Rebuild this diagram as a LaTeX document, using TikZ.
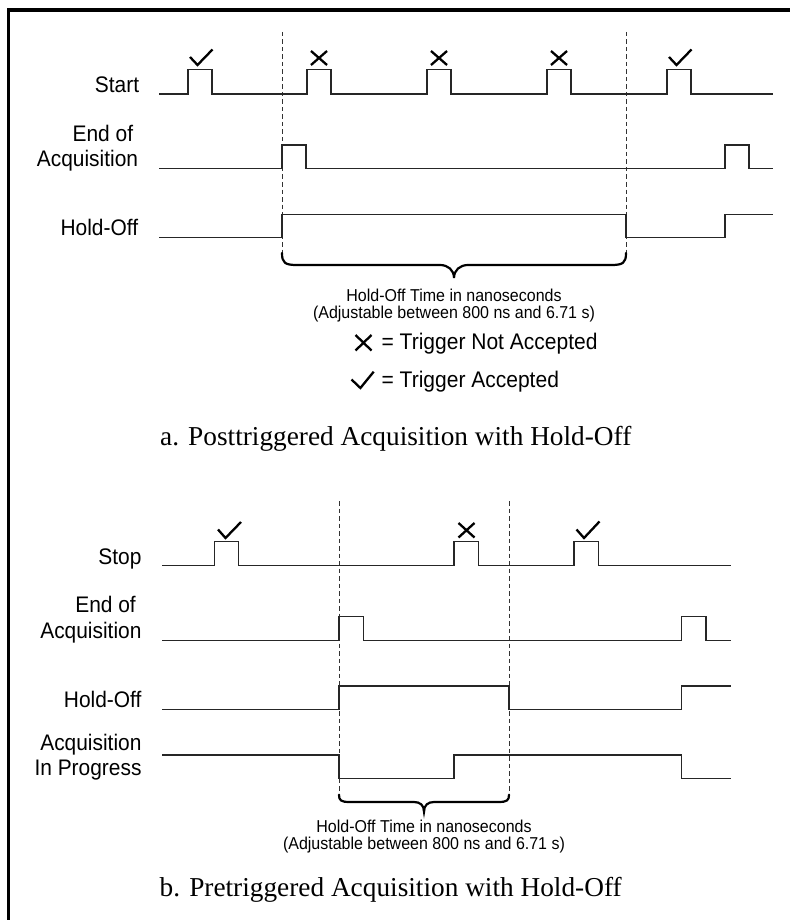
\documentclass[tikz,border=0pt]{standalone}
\usepackage{fontspec}
\setmainfont{Liberation Serif}
\newfontfamily\lsans[FakeStretch=0.93]{Liberation Sans}
\begin{document}
\begin{tikzpicture}[x=1pt,y=-1pt,
  sig/.style={line width=1.2pt, draw=black!85, line join=miter},
  guide/.style={line width=1pt, draw=black!80, dash pattern=on 4.5pt off 3pt},
  bracepath/.style={line width=2.2pt, draw=black, line cap=round},
  marksym/.style={line width=2.3pt, draw=black},
  lbl/.style={anchor=base east, inner sep=0pt, font=\lsans\fontsize{22.5}{26}\selectfont},
  legtxt/.style={anchor=base west, inner sep=0pt, font=\lsans\fontsize{22.6}{26}\selectfont},
  note/.style={anchor=base, inner sep=0pt, font=\lsans\fontsize{17.2}{20}\selectfont},
  capt/.style={anchor=base west, inner sep=0pt, font=\fontsize{27.3}{31}\selectfont}]
\useasboundingbox (0,0) rectangle (789,920);
% frame
\draw[line width=3.5pt, line join=miter] (8.7,930) -- (8.7,10) -- (800,10);

% ===== panel a =====
\draw[guide] (282,32) -- (282,253);
\draw[guide] (626,32) -- (626,253);
% Start
\draw[sig] (159.3,94) -- (188,94) -- (188,69.5) -- (212,69.5) -- (212,94)
  -- (307,94) -- (307,69.5) -- (331,69.5) -- (331,94)
  -- (427,94) -- (427,69.5) -- (451,69.5) -- (451,94)
  -- (547,94) -- (547,69.5) -- (571,69.5) -- (571,94)
  -- (667,94) -- (667,69.5) -- (691,69.5) -- (691,94) -- (773.3,94);
% End of Acquisition
\draw[sig] (159.3,168.3) -- (282,168.3) -- (282,145) -- (306,145) -- (306,168.3)
  -- (725,168.3) -- (725,145) -- (749,145) -- (749,168.3) -- (773.3,168.3);
% Hold-Off
\draw[sig] (159.3,237.7) -- (282,237.7) -- (282,214.3) -- (626,214.3) -- (626,237.7)
  -- (725,237.7) -- (725,214.3) -- (773.3,214.3);
% marks a
\draw[marksym] (190,57) -- (197.5,65) -- (212.5,49.5);
\draw[marksym] (311,51) -- (327,65) (327,51) -- (311,65);
\draw[marksym] (431,51) -- (447,65) (447,51) -- (431,65);
\draw[marksym] (551,51) -- (567,65) (567,51) -- (551,65);
\draw[marksym] (669,57) -- (676.5,65) -- (691.5,49.5);
% labels a
\node[lbl] (la1) at (139.3,92.3) {Start};
\node[lbl] (la2) at (133.3,141.7) {End of};
\node[lbl] (la3) at (138.3,166.7) {Acquisition};
\node[lbl] (la4) at (138.3,235) {Hold-Off};
% brace a
\draw[bracepath] (282,253) .. controls (282,263) and (285,265) .. (297,265)
  -- (440,265) .. controls (448,265) and (454,270) .. (454,278)
  .. controls (454,270) and (460,265) .. (468,265)
  -- (611,265) .. controls (623,265) and (626,263) .. (626,253);
\node[note] (na1) at (454,301.5) {Hold-Off Time in nanoseconds};
\node[note] (na2) at (454,318.8) {(Adjustable between 800 ns and 6.71 s)};
% legend
\draw[marksym] (355.5,335) -- (371.5,350.5) (371.5,335) -- (355.5,350.5);
\node[legtxt] (lg1) at (381.4,349) {= Trigger Not Accepted};
\draw[marksym] (351.5,379.5) -- (360.4,388) -- (373.7,371.7);
\node[legtxt] (lg2) at (381.4,387.7) {= Trigger Accepted};
\node[capt] (capa) at (160,445) {a. Posttriggered Acquisition with Hold-Off};

% ===== panel b =====
\draw[guide] (339,501) -- (339,794.7);
\draw[guide] (509,501) -- (509,794.7);
% Stop
\draw[sig] (162.3,565.7) -- (214.3,565.7) -- (214.3,541.7) -- (238.5,541.7) -- (238.5,565.7)
  -- (454,565.7) -- (454,541.7) -- (478.3,541.7) -- (478.3,565.7)
  -- (574,565.7) -- (574,541.7) -- (598.3,541.7) -- (598.3,565.7) -- (730.7,565.7);
% End of Acquisition
\draw[sig] (162.3,640.7) -- (339,640.7) -- (339,616.7) -- (363.5,616.7) -- (363.5,640.7)
  -- (681.7,640.7) -- (681.7,616.7) -- (706,616.7) -- (706,640.7) -- (730.7,640.7);
% Hold-Off
\draw[sig] (162.3,709.3) -- (339,709.3) -- (339,686) -- (509,686) -- (509,709.3)
  -- (681.7,709.3) -- (681.7,686) -- (730.7,686);
% Acquisition In Progress
\draw[sig] (162.3,755) -- (339,755) -- (339,778.3) -- (454,778.3) -- (454,755)
  -- (681.7,755) -- (681.7,778.3) -- (730.7,778.3);
% marks b
\draw[marksym] (218,529.5) -- (225.5,538) -- (241,522);
\draw[marksym] (458.5,523) -- (474.5,537.5) (474.5,523) -- (458.5,537.5);
\draw[marksym] (576.5,529.5) -- (584,538) -- (599.5,521.5);
% labels b
\node[lbl] (lb1) at (141.7,564) {Stop};
\node[lbl] (lb2) at (136,612.7) {End of};
\node[lbl] (lb3) at (141.7,638) {Acquisition};
\node[lbl] (lb4) at (141.7,707.7) {Hold-Off};
\node[lbl] (lb5) at (141.7,750.7) {Acquisition};
\node[lbl] (lb6) at (141.7,775) {In Progress};
% brace b
\draw[bracepath] (339,794.7) .. controls (339,800.5) and (341,802) .. (350,802)
  -- (414,802) .. controls (420,802) and (424,805) .. (424,811.8)
  .. controls (424,805) and (428,802) .. (434,802)
  -- (498,802) .. controls (507,802) and (509,800.5) .. (509,794.7);
\node[note] (nb1) at (424,832) {Hold-Off Time in nanoseconds};
\node[note] (nb2) at (424,849.5) {(Adjustable between 800 ns and 6.71 s)};
\node[capt] (capb) at (159.5,896) {b. Pretriggered Acquisition with Hold-Off};
\end{tikzpicture}
\end{document}
